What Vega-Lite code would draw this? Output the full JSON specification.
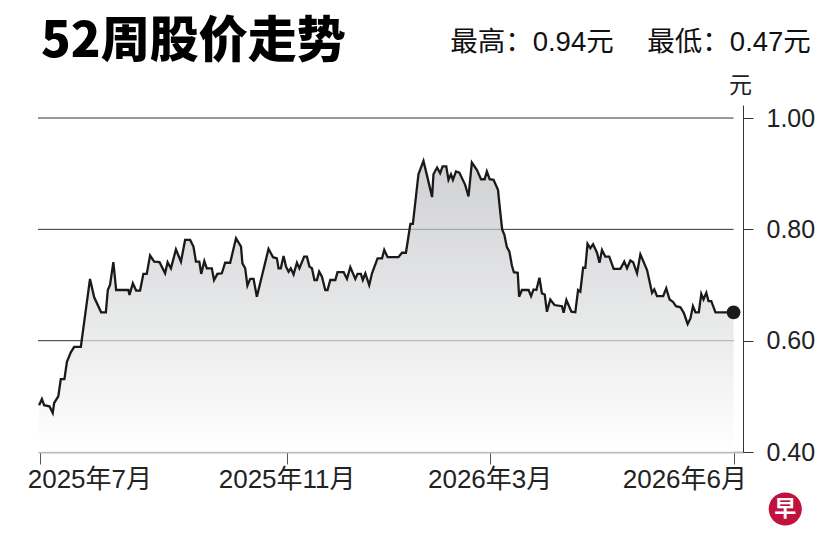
{
  "$schema": "https://vega.github.io/schema/vega-lite/v6.json",
  "width": 705,
  "height": 347,
  "autosize": "none",
  "padding": {"left": 38, "top": 105, "right": 91, "bottom": 105},
  "background": "white",
  "title": {
    "text": "52周股价走势",
    "anchor": "start",
    "frame": "group",
    "dx": 3,
    "offset": 0,
    "dy": 38,
    "font": "Noto Sans CJK SC",
    "fontSize": 49,
    "fontWeight": 900,
    "color": "#000000"
  },
  "datasets": {
    "price": [
      {"d": 0, "p": 0.484}, {"d": 1.0, "p": 0.495}, {"d": 1.8, "p": 0.484}, {"d": 3.7, "p": 0.482},
      {"d": 4.9, "p": 0.47}, {"d": 5.4, "p": 0.488}, {"d": 6.9, "p": 0.5}, {"d": 7.8, "p": 0.531},
      {"d": 9.1, "p": 0.531}, {"d": 10.0, "p": 0.562}, {"d": 11.4, "p": 0.579}, {"d": 12.6, "p": 0.589},
      {"d": 15.0, "p": 0.589}, {"d": 18.3, "p": 0.711}, {"d": 19.8, "p": 0.678}, {"d": 22.3, "p": 0.651},
      {"d": 24.0, "p": 0.651}, {"d": 24.7, "p": 0.691}, {"d": 25.5, "p": 0.7}, {"d": 26.7, "p": 0.741},
      {"d": 27.7, "p": 0.691}, {"d": 32.1, "p": 0.691}, {"d": 32.5, "p": 0.682}, {"d": 33.7, "p": 0.703},
      {"d": 34.9, "p": 0.69}, {"d": 36.3, "p": 0.69}, {"d": 37.5, "p": 0.72}, {"d": 38.7, "p": 0.72},
      {"d": 39.9, "p": 0.753}, {"d": 41.4, "p": 0.742}, {"d": 43.3, "p": 0.741}, {"d": 45.3, "p": 0.721},
      {"d": 46.2, "p": 0.741}, {"d": 47.4, "p": 0.73}, {"d": 49.2, "p": 0.764}, {"d": 51.0, "p": 0.742},
      {"d": 52.5, "p": 0.781}, {"d": 54.3, "p": 0.781}, {"d": 55.5, "p": 0.769}, {"d": 56.4, "p": 0.742},
      {"d": 57.6, "p": 0.742}, {"d": 58.3, "p": 0.72}, {"d": 59.4, "p": 0.743}, {"d": 60.3, "p": 0.73},
      {"d": 62.1, "p": 0.73}, {"d": 62.9, "p": 0.709}, {"d": 64.1, "p": 0.72}, {"d": 65.7, "p": 0.721},
      {"d": 66.9, "p": 0.74}, {"d": 68.7, "p": 0.74}, {"d": 70.8, "p": 0.784}, {"d": 72.6, "p": 0.769},
      {"d": 73.1, "p": 0.739}, {"d": 74.1, "p": 0.73}, {"d": 74.9, "p": 0.699}, {"d": 75.9, "p": 0.711},
      {"d": 77.1, "p": 0.711}, {"d": 78.3, "p": 0.679}, {"d": 82.5, "p": 0.765}, {"d": 84.1, "p": 0.75},
      {"d": 85.5, "p": 0.748}, {"d": 86.1, "p": 0.73}, {"d": 86.9, "p": 0.73}, {"d": 87.9, "p": 0.752},
      {"d": 88.8, "p": 0.733}, {"d": 89.7, "p": 0.724}, {"d": 90.5, "p": 0.73}, {"d": 91.5, "p": 0.719},
      {"d": 92.7, "p": 0.74}, {"d": 93.6, "p": 0.73}, {"d": 95.3, "p": 0.751}, {"d": 96.3, "p": 0.751},
      {"d": 97.2, "p": 0.733}, {"d": 98.1, "p": 0.73}, {"d": 99.0, "p": 0.709}, {"d": 99.9, "p": 0.709},
      {"d": 100.7, "p": 0.724}, {"d": 101.7, "p": 0.715}, {"d": 102.9, "p": 0.691}, {"d": 103.7, "p": 0.691},
      {"d": 104.7, "p": 0.709}, {"d": 106.5, "p": 0.709}, {"d": 107.3, "p": 0.723}, {"d": 109.5, "p": 0.723},
      {"d": 110.7, "p": 0.711}, {"d": 111.9, "p": 0.732}, {"d": 113.7, "p": 0.711}, {"d": 114.5, "p": 0.72},
      {"d": 115.7, "p": 0.72}, {"d": 116.4, "p": 0.709}, {"d": 117.3, "p": 0.721}, {"d": 118.7, "p": 0.7},
      {"d": 119.7, "p": 0.721}, {"d": 121.7, "p": 0.748}, {"d": 123.3, "p": 0.748}, {"d": 124.1, "p": 0.763},
      {"d": 125.3, "p": 0.75}, {"d": 129.2, "p": 0.75}, {"d": 130.5, "p": 0.758}, {"d": 131.9, "p": 0.758},
      {"d": 133.5, "p": 0.81}, {"d": 134.4, "p": 0.81}, {"d": 136.4, "p": 0.899}, {"d": 138.2, "p": 0.923},
      {"d": 139.7, "p": 0.892}, {"d": 141.3, "p": 0.858}, {"d": 141.8, "p": 0.899}, {"d": 143.1, "p": 0.911},
      {"d": 144.2, "p": 0.901}, {"d": 145.1, "p": 0.913}, {"d": 146.4, "p": 0.913}, {"d": 147.2, "p": 0.889},
      {"d": 148.1, "p": 0.899}, {"d": 148.8, "p": 0.889}, {"d": 149.9, "p": 0.904}, {"d": 151.1, "p": 0.902},
      {"d": 153.2, "p": 0.88}, {"d": 154.4, "p": 0.859}, {"d": 155.6, "p": 0.92}, {"d": 157.4, "p": 0.907},
      {"d": 158.9, "p": 0.89}, {"d": 160.2, "p": 0.89}, {"d": 161.0, "p": 0.904}, {"d": 162.0, "p": 0.89},
      {"d": 163.4, "p": 0.889}, {"d": 165.0, "p": 0.871}, {"d": 165.8, "p": 0.832}, {"d": 166.5, "p": 0.8},
      {"d": 167.3, "p": 0.79}, {"d": 168.2, "p": 0.768}, {"d": 169.1, "p": 0.76}, {"d": 170.0, "p": 0.735},
      {"d": 170.7, "p": 0.723}, {"d": 172.1, "p": 0.722}, {"d": 172.6, "p": 0.679}, {"d": 173.6, "p": 0.691},
      {"d": 176.0, "p": 0.691}, {"d": 176.9, "p": 0.68}, {"d": 177.8, "p": 0.692}, {"d": 178.8, "p": 0.691},
      {"d": 179.9, "p": 0.713}, {"d": 180.8, "p": 0.685}, {"d": 181.8, "p": 0.683}, {"d": 182.6, "p": 0.652},
      {"d": 183.8, "p": 0.674}, {"d": 185.3, "p": 0.664}, {"d": 188.0, "p": 0.662}, {"d": 188.6, "p": 0.65},
      {"d": 189.6, "p": 0.673}, {"d": 191.4, "p": 0.652}, {"d": 192.8, "p": 0.651}, {"d": 193.8, "p": 0.691},
      {"d": 194.6, "p": 0.688}, {"d": 195.6, "p": 0.731}, {"d": 196.4, "p": 0.731}, {"d": 197.2, "p": 0.774},
      {"d": 198.2, "p": 0.766}, {"d": 199.2, "p": 0.773}, {"d": 200.6, "p": 0.758}, {"d": 201.5, "p": 0.74},
      {"d": 202.4, "p": 0.763}, {"d": 203.6, "p": 0.751}, {"d": 205.0, "p": 0.751}, {"d": 206.6, "p": 0.729},
      {"d": 209.0, "p": 0.729}, {"d": 210.4, "p": 0.742}, {"d": 211.4, "p": 0.73}, {"d": 212.6, "p": 0.744},
      {"d": 213.6, "p": 0.741}, {"d": 215.0, "p": 0.721}, {"d": 216.2, "p": 0.755}, {"d": 218.6, "p": 0.727},
      {"d": 220.4, "p": 0.686}, {"d": 221.2, "p": 0.692}, {"d": 222.2, "p": 0.68}, {"d": 224.4, "p": 0.68},
      {"d": 225.5, "p": 0.694}, {"d": 226.7, "p": 0.674}, {"d": 227.9, "p": 0.67}, {"d": 229.0, "p": 0.662},
      {"d": 230.6, "p": 0.66}, {"d": 231.8, "p": 0.65}, {"d": 233.2, "p": 0.63}, {"d": 234.2, "p": 0.64},
      {"d": 235.1, "p": 0.662}, {"d": 236.0, "p": 0.651}, {"d": 237.2, "p": 0.651}, {"d": 238.1, "p": 0.684},
      {"d": 238.9, "p": 0.674}, {"d": 239.9, "p": 0.686}, {"d": 240.7, "p": 0.671}, {"d": 241.7, "p": 0.671},
      {"d": 243.2, "p": 0.651}, {"d": 249.7, "p": 0.651}
    ],
    "grid": [{"v": 0.6}, {"v": 0.8}, {"v": 1.0}]
  },
  "layer": [
    {
      "data": {"name": "grid"},
      "mark": {"type": "rule", "color": "#333333", "strokeWidth": 1},
      "encoding": {
        "y": {"field": "v", "type": "quantitative", "scale": {"domain": [0.4, 1.0234], "nice": false, "zero": false}},
        "x": {"datum": -0.4, "type": "quantitative", "scale": {"domain": [-0.4, 253.1], "nice": false, "zero": false}},
        "x2": {"datum": 249.7}
      }
    },
    {
      "data": {"name": "price"},
      "mark": {
        "type": "area",
        "opacity": 0.7,
        "color": {
          "gradient": "linear",
          "x1": 0, "y1": 0, "x2": 0, "y2": 1,
          "stops": [
            {"offset": 0, "color": "#bcbdc0"},
            {"offset": 0.6, "color": "#e2e3e4"},
            {"offset": 1, "color": "#ffffff"}
          ]
        }
      },
      "encoding": {
        "x": {
          "field": "d",
          "type": "quantitative",
          "axis": {
            "values": [0.4, 89, 162, 249.7],
            "labelExpr": "datum.value < 10 ? '2025年7月' : datum.value < 100 ? '2025年11月' : datum.value < 200 ? '2026年3月' : '2026年6月'",
            "grid": false,
            "domainColor": "#bbbbbb",
            "domainWidth": 2,
            "tickColor": "#555555",
            "tickSize": 12,
            "tickWidth": 1,
            "labelFont": "Liberation Sans, Noto Sans CJK SC",
            "labelFontSize": 26,
            "labelColor": "#222222",
            "labelPadding": 2,
            "labelFlush": 15,
            "labelFlushOffset": 13,
            "title": null
          }
        },
        "y": {
          "field": "p",
          "type": "quantitative",
          "axis": {
            "orient": "right",
            "values": [0.4, 0.6, 0.8, 1.0],
            "format": ".2f",
            "grid": false,
            "domainColor": "#333333",
            "domainWidth": 1,
            "tickColor": "#333333",
            "tickSize": 10,
            "labelFont": "Liberation Sans",
            "labelFontSize": 25,
            "labelColor": "#222222",
            "labelPadding": 13,
            "title": "元",
            "titleAngle": 0,
            "titleFont": "Noto Sans CJK SC",
            "titleFontSize": 23,
            "titleFontWeight": "normal",
            "titleColor": "#222222",
            "titleAlign": "center",
            "titleBaseline": "middle",
            "titleX": -3,
            "titleY": -20
          }
        },
        "y2": {"datum": 0.4}
      }
    },
    {
      "data": {"name": "price"},
      "mark": {"type": "line", "color": "#1a1a1a", "strokeWidth": 2.3, "strokeJoin": "miter"},
      "encoding": {
        "x": {"field": "d", "type": "quantitative"},
        "y": {"field": "p", "type": "quantitative"}
      }
    },
    {
      "data": {"name": "price"},
      "transform": [{"filter": "datum.d == 249.7"}],
      "mark": {"type": "point", "filled": true, "opacity": 1, "color": "#1a1a1a", "size": 190},
      "encoding": {
        "x": {"field": "d", "type": "quantitative"},
        "y": {"field": "p", "type": "quantitative"}
      }
    },
    {
      "data": {"values": [{"label": "最高：0.94元"}]},
      "mark": {"type": "text", "align": "left", "baseline": "middle", "font": "Liberation Sans, Noto Sans CJK SC", "fontSize": 27.5, "color": "#111111"},
      "encoding": {
        "x": {"datum": 147.8, "type": "quantitative"},
        "y": {"datum": 1.134, "type": "quantitative"},
        "text": {"field": "label"}
      }
    },
    {
      "data": {"values": [{"label": "最低：0.47元"}]},
      "mark": {"type": "text", "align": "left", "baseline": "middle", "font": "Liberation Sans, Noto Sans CJK SC", "fontSize": 27.5, "color": "#111111"},
      "encoding": {
        "x": {"datum": 218.7, "type": "quantitative"},
        "y": {"datum": 1.134, "type": "quantitative"},
        "text": {"field": "label"}
      }
    },
    {
      "data": {"values": [{"logo": "早"}]},
      "mark": {"type": "point", "shape": "circle", "filled": true, "opacity": 1, "color": "#c0123c", "size": 1100},
      "encoding": {
        "x": {"datum": 268.3, "type": "quantitative"},
        "y": {"datum": 0.2976, "type": "quantitative"}
      }
    },
    {
      "data": {"values": [{"logo": "早"}]},
      "mark": {"type": "text", "align": "center", "baseline": "middle", "font": "Noto Sans CJK SC", "fontWeight": "bold", "fontSize": 22, "color": "#ffffff"},
      "encoding": {
        "x": {"datum": 268.3, "type": "quantitative"},
        "y": {"datum": 0.2976, "type": "quantitative"},
        "text": {"field": "logo"}
      }
    }
  ],
  "config": {
    "view": {"stroke": null}
  }
}
